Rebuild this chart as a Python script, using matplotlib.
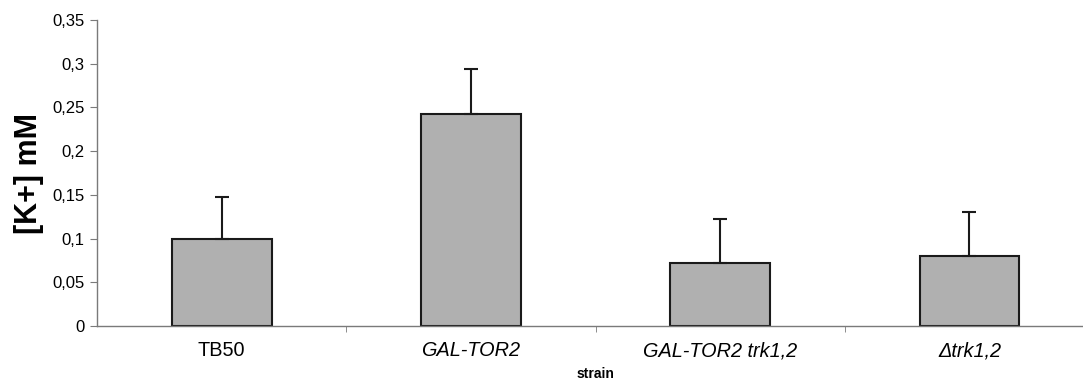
import matplotlib.pyplot as plt
import numpy as np
from matplotlib.ticker import FixedLocator, FuncFormatter

plt.rcParams['font.family'] = ['Liberation Sans', 'DejaVu Sans']

# data
strains = ['TB50', 'GAL-TOR2', 'GAL-TOR2 trk1,2', '\u0394trk1,2']
italic = [False, True, True, True]
k_conc = [0.100, 0.243, 0.072, 0.080]
k_err = [0.048, 0.051, 0.050, 0.050]
y_ticks = [0, 0.05, 0.1, 0.15, 0.2, 0.25, 0.3, 0.35]

fig = plt.figure(figsize=(10.83, 3.82), dpi=100)
# axes runs past the right edge, the reference is cropped there
ax = fig.add_axes([0.0896, 0.1466, 0.9206, 0.801])

x = np.arange(len(strains))
ax.bar(x, k_conc, width=0.4, color='#b0b0b0', edgecolor='#1a1a1a', linewidth=1.5, zorder=2)
ax.errorbar(x, k_conc, yerr=[np.zeros(len(k_err)), k_err], fmt='none',
            ecolor='#1a1a1a', elinewidth=1.5, capsize=5, capthick=1.5, zorder=3)

ax.set_xlim(-0.5, len(strains) - 0.5)
ax.set_ylim(0, 0.35)

for side in ['top', 'right']:
    ax.spines[side].set_visible(False)
for side in ['left', 'bottom']:
    ax.spines[side].set_color('#7a7a7a')
    ax.spines[side].set_linewidth(1.0)

ax.set_yticks(y_ticks)
ax.yaxis.set_major_formatter(FuncFormatter(lambda v, p: ('%g' % round(v, 2)).replace('.', ',')))
ax.tick_params(axis='y', direction='out', length=5, color='#7a7a7a', labelsize=12, pad=4)

# category labels at centres, tick marks on the boundaries
ax.set_xticks(x)
ax.set_xticklabels(strains, fontsize=14.3)
for lab, it in zip(ax.get_xticklabels(), italic):
    if it:
        lab.set_style('italic')
ax.tick_params(axis='x', which='major', length=0, pad=11)
ax.xaxis.set_minor_locator(FixedLocator(x[:-1] + 0.5))
ax.tick_params(axis='x', which='minor', direction='out', length=4, color='#7a7a7a')

ax.set_ylabel('[K+] mM', fontsize=22, fontweight='bold', labelpad=6)
fig.text(0.5498, 0.003, 'strain', fontsize=10, fontweight='bold', ha='center', va='bottom')

plt.savefig('out.png', dpi=100)
plt.close()
